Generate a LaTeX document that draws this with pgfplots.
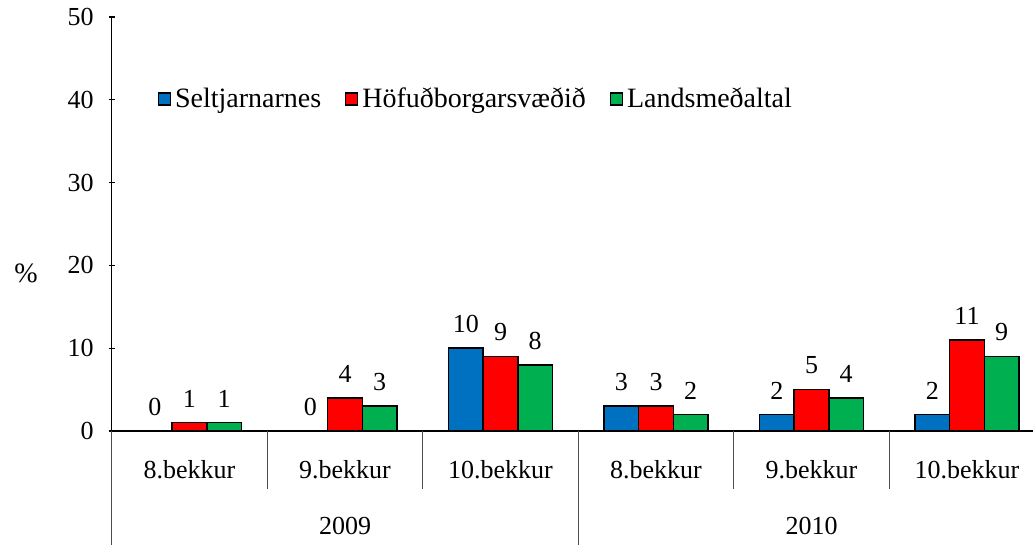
\documentclass[border=0pt]{standalone}
\usepackage{pgfplots}
\pgfplotsset{compat=1.18}
\usepackage{fontspec}
\setmainfont{Liberation Serif}
\definecolor{cblue}{HTML}{0070C0}
\definecolor{cred}{HTML}{FF0000}
\definecolor{cgreen}{HTML}{00B050}
\begin{document}
\begin{tikzpicture}[x=0.5pt,y=0.5pt]
\path[use as bounding box] (0,0) rectangle (1033,545);
\begin{axis}[
  at={(55.875pt,57pt)}, anchor=south west,
  scale only axis, width=466.5pt, height=207pt,
  font=\fontsize{13}{15}\selectfont,
  ymin=0, ymax=50, ytick={0,10,...,50},
  xmin=-0.5, xmax=5.5,
  xtick={0,...,5},
  xticklabels={8.bekkur,9.bekkur,10.bekkur,8.bekkur,9.bekkur,10.bekkur},
  x tick style={draw=none},
  y tick style={black, line width=0.6pt},
  tick align=outside, major tick length=3pt,
  xticklabel style={anchor=center, yshift=-16.5pt},
  yticklabel style={xshift=-4pt},
  axis lines=left, axis line style={-, line width=0.6pt},
  ybar=0pt, bar width=17.33pt,
  clip=false,
  /pgf/number format/assume math mode=true,
  nodes near coords,
  every node near coord/.append style={yshift=4pt, black},
  every axis plot/.append style={draw=black, line width=0.75pt,
    legend image code/.code={\draw[##1, line width=0.6pt] (0pt,-3pt) rectangle (6pt,3pt);}},
  legend style={at={(0.049,0.802)}, anchor=west, draw=none, inner sep=0pt,
    legend columns=3, font=\fontsize{14}{16}\selectfont,
    /tikz/every odd column/.append style={column sep=0pt},
    /tikz/every even column/.append style={column sep=10pt}},
  legend cell align=left,
]
\addplot[fill=cblue] coordinates {(0,0) (1,0) (2,10) (3,3) (4,2) (5,2)};
\addplot[fill=cred] coordinates {(0,1) (1,4) (2,9) (3,3) (4,5) (5,11)};
\addplot[fill=cgreen] coordinates {(0,1) (1,3) (2,8) (3,2) (4,4) (5,9)};
\legend{Seltjarnarnes, Höfuðborgarsvæðið, Landsmeðaltal}
\pgfplotsinvokeforeach{0.5,1.5,3.5,4.5}{
  \draw[black!70, line width=0.5pt] (axis cs:#1,0) -- ([yshift=-29pt]axis cs:#1,0);
}
\pgfplotsinvokeforeach{-0.5,2.5,5.5}{
  \draw[black!70, line width=0.5pt] (axis cs:#1,0) -- ([yshift=-60pt]axis cs:#1,0);
}
\node[anchor=center] at ([yshift=-47.5pt]axis cs:1,0) {2009};
\node[anchor=center] at ([yshift=-47.5pt]axis cs:4,0) {2010};
\end{axis}
\node[font=\fontsize{14}{16}\selectfont] at (26,272) {\%};
\end{tikzpicture}
\end{document}
